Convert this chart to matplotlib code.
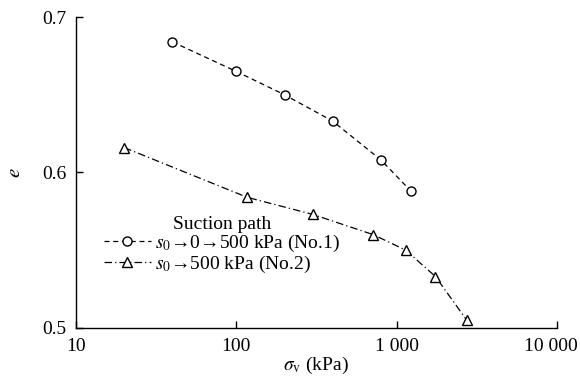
import matplotlib
matplotlib.use("Agg")
import matplotlib.pyplot as plt
import matplotlib.ticker as mticker
import matplotlib.transforms as mtransforms

plt.rcParams['font.family'] = ['Liberation Serif', 'DejaVu Sans']
plt.rcParams['mathtext.fontset'] = 'stix'

# No.1: s0 -> 0 -> 500 kPa
sv_no1 = [40, 100, 200, 400, 800, 1230]
e_no1 = [0.684, 0.665, 0.650, 0.633, 0.608, 0.588]

# No.2: s0 -> 500 kPa
sv_no2 = [20, 117, 300, 715, 1140, 1750, 2740]
e_no2 = [0.616, 0.584, 0.573, 0.560, 0.550, 0.533, 0.505]

label_no1 = r"$s_0$→0→500 kPa (No.1)"
label_no2 = r"$s_0$→500 kPa (No.2)"
x_ticks = [10, 100, 1000, 10000]
x_ticklabels = ["10", "100", "1 000", "10 000"]
y_ticks = [0.5, 0.6, 0.7]

fig = plt.figure(figsize=(5.8, 3.79), dpi=100)
ax = fig.add_axes([0.131, 0.135, 0.829, 0.82])

ax.plot(sv_no1, e_no1, color='black', lw=0.9, ls=(0, (4, 3)),
        marker='o', ms=6.5, mfc='white', mec='black', mew=1.0, label=label_no1)
ax.plot(sv_no2, e_no2, color='black', lw=0.9, ls=(0, (6, 2.5, 1, 2.5)),
        marker='^', ms=7.5, mfc='white', mec='black', mew=1.0, label=label_no2)

ax.set_xscale('log')
ax.set_xlim(10, 10000)
ax.set_ylim(0.5, 0.7)
ax.xaxis.set_major_locator(mticker.FixedLocator(x_ticks))
ax.xaxis.set_minor_locator(mticker.NullLocator())
ax.set_xticks(x_ticks)
ax.set_xticklabels(x_ticklabels)
ax.set_yticks(y_ticks)
ax.yaxis.set_major_formatter(mticker.FormatStrFormatter('%.1f'))

for s in ['top', 'right']:
    ax.spines[s].set_visible(False)
for s in ['left', 'bottom']:
    ax.spines[s].set_linewidth(1.0)
ax.tick_params(direction='in', length=5, width=1.0, labelsize=14, pad=7)

# last x label sits a little left so it stays inside the figure
last = ax.get_xticklabels()[-1]
last.set_transform(last.get_transform() +
                   mtransforms.ScaledTranslation(-4 / 72, 0, fig.dpi_scale_trans))

ax.set_xlabel(r"$\sigma_{\mathrm{v}}$ (kPa)", fontsize=14, labelpad=0)
ax.set_ylabel(r"$e$", fontsize=15, rotation=90, labelpad=12)

leg = ax.legend(title="Suction path", loc='upper left', bbox_to_anchor=(0.03, 0.405),
                frameon=False, fontsize=14, title_fontsize=14, handlelength=2.4,
                handletextpad=0.2, labelspacing=0.0, borderpad=0.2)

fig.savefig("out.png", dpi=100)
